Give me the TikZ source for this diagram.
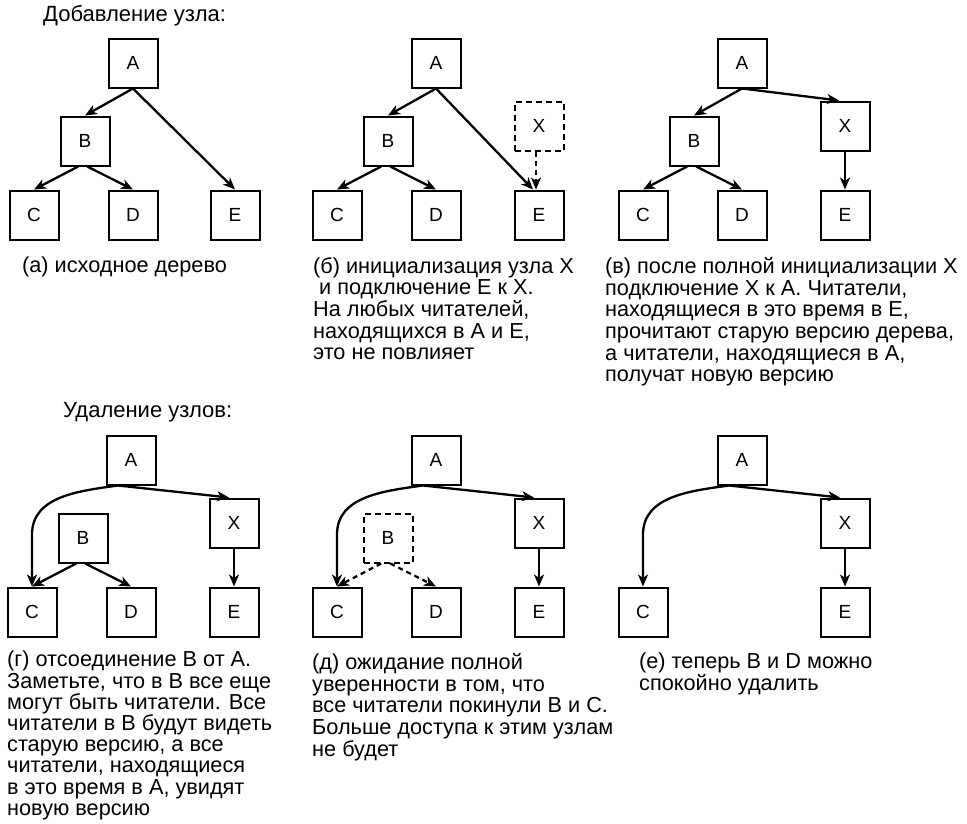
\documentclass[tikz,border=0pt]{standalone}
\usepackage{fontspec}
\setmainfont{Liberation Sans}
\usetikzlibrary{arrows.meta}

\tikzset{
  treenode/.style={draw, line width=2pt, minimum size=49pt, inner sep=0pt,
                   font=\fontsize{19}{19}\selectfont},
  ghostnode/.style={treenode, dash pattern=on 6pt off 4pt},
  link/.style={line width=2.3pt, -{Stealth[length=12pt, width=10pt, inset=3.5pt]}},
  ghostlink/.style={link, dash pattern=on 5pt off 4pt},
  caption/.style={anchor=north west, inner sep=0pt, align=left,
                  font=\fontsize{21.7}{21.7}\selectfont},
  heading/.style={anchor=west, inner sep=0pt, font=\fontsize{22}{22}\selectfont},
}

\begin{document}
\begin{tikzpicture}[x=1pt, y=-1pt]
    \useasboundingbox (0,0) rectangle (967,823);

    % headings of the two rows
    \node[heading] (addtitle) at (43,16)  {Добавление узла:};
    \node[heading] (deltitle) at (63,412) {Удаление узлов:};

    % (a) original tree
    \begin{scope}
        \node[treenode] (aA) at (133,63)  {A};
        \node[treenode] (aB) at (85,141)  {B};
        \node[treenode] (aC) at (34,215)  {C};
        \node[treenode] (aD) at (133,215) {D};
        \node[treenode] (aE) at (235,215) {E};
        \draw[link] (aA.south) -- (aB.north);
        \draw[link] (aA.south) -- (aE.north);
        \draw[link] (aB.-105) -- (aC.north);
        \draw[link] (aB.-85)  -- (aD.north);
        \node[caption] (acap) at (22,257) {(а) исходное дерево};
    \end{scope}

    % (b) X initialised, E hooked to X
    \begin{scope}[shift={(303,0)}]
        \node[treenode]  (bA) at (133,63)  {A};
        \node[treenode]  (bB) at (85,141)  {B};
        \node[treenode]  (bC) at (34,215)  {C};
        \node[treenode]  (bD) at (133,215) {D};
        \node[treenode]  (bE) at (236,215) {E};
        \node[ghostnode] (bX) at (236,126) {X};
        \draw[link] (bA.south) -- ([xshift=-6pt]bE.north);
        \draw[link] (bA.south) -- (bB.north);
        \draw[link] (bB.-105) -- (bC.north);
        \draw[link] (bB.-85)  -- (bD.north);
        \draw[ghostlink] ([xshift=-3pt]bX.south) -- ([xshift=-3pt]bE.north);
        \node[caption] (bcap) at (10,257) {(б) инициализация узла X\\
            \ и подключение E к X.\\На любых читателей,\\находящихся в A и E,\\это не повлияет};
    \end{scope}

    % (c) X hooked to A
    \begin{scope}[shift={(609,0)}]
        \node[treenode] (cA) at (133,63)  {A};
        \node[treenode] (cB) at (85,141)  {B};
        \node[treenode] (cC) at (34,215)  {C};
        \node[treenode] (cD) at (133,215) {D};
        \node[treenode] (cE) at (236,215) {E};
        \node[treenode] (cX) at (236,126) {X};
        \draw[link] (cA.south) -- (cB.north);
        \draw[link] (cA.south) -- ([xshift=-6pt]cX.north);
        \draw[link] (cB.-105) -- (cC.north);
        \draw[link] (cB.-85)  -- (cD.north);
        \draw[link] (cX.south) -- (cE.north);
        \node[caption] (ccap) at (-4,257) {(в) после полной инициализации X\\
            подключение X к A. Читатели,\\находящиеся в это время в E,\\
            прочитают старую версию дерева,\\а читатели, находящиеся в A,\\получат новую версию};
    \end{scope}

    % (d) B unhooked from A
    \begin{scope}[shift={(-2,397)}]
        \node[treenode] (dA) at (133,63)  {A};
        \node[treenode] (dB) at (85,141)  {B};
        \node[treenode] (dC) at (34,215)  {C};
        \node[treenode] (dD) at (133,215) {D};
        \node[treenode] (dE) at (236,215) {E};
        \node[treenode] (dX) at (236,126) {X};
        \draw[link] (dA.-117) to[out=188, in=90] ([yshift=52pt]dC.north) -- (dC.north);
        \draw[link] (dA.-117) -- ([xshift=-5pt]dX.north);
        \draw[link] (dB.-105) -- (dC.north);
        \draw[link] (dB.-85)  -- (dD.north);
        \draw[link] (dX.south) -- (dE.north);
        \node[caption, font=\fontsize{21.7}{21.2}\selectfont] (dcap) at (9,254) {(г) отсоединение B от A.\\
            Заметьте, что в B все еще\\могут быть читатели. Все\\
            читатели в B будут видеть\\старую версию, а все\\
            читатели, находящиеся\\в это время в A, увидят\\новую версию};
    \end{scope}

    % (e) waiting for readers to leave B
    \begin{scope}[shift={(303,397)}]
        \node[treenode]  (eA) at (133,63)  {A};
        \node[ghostnode] (eB) at (85,141)  {B};
        \node[treenode]  (eC) at (34,215)  {C};
        \node[treenode]  (eD) at (133,215) {D};
        \node[treenode]  (eE) at (236,215) {E};
        \node[treenode]  (eX) at (236,126) {X};
        \draw[link] (eA.-117) to[out=188, in=90] ([yshift=52pt]eC.north) -- (eC.north);
        \draw[link] (eA.-117) -- ([xshift=-5pt]eX.north);
        \draw[ghostlink] (eB.-105) -- (eC.north);
        \draw[ghostlink] (eB.-85)  -- (eD.north);
        \draw[link] (eX.south) -- (eE.north);
        \node[caption] (ecap) at (9,256) {(д) ожидание полной\\уверенности в том, что\\
            все читатели покинули B и C.\\Больше доступа к этим узлам\\не будет};
    \end{scope}

    % (f) B and D can go
    \begin{scope}[shift={(609,397)}]
        \node[treenode] (fA) at (133,63)  {A};
        \node[treenode] (fC) at (34,215)  {C};
        \node[treenode] (fE) at (236,215) {E};
        \node[treenode] (fX) at (236,126) {X};
        \draw[link] (fA.-117) to[out=188, in=90] ([yshift=52pt]fC.north) -- (fC.north);
        \draw[link] (fA.-117) -- ([xshift=-5pt]fX.north);
        \draw[link] (fX.south) -- (fE.north);
        \node[caption] (fcap) at (30,256) {(е) теперь B и D можно\\спокойно удалить};
    \end{scope}
\end{tikzpicture}
\end{document}
